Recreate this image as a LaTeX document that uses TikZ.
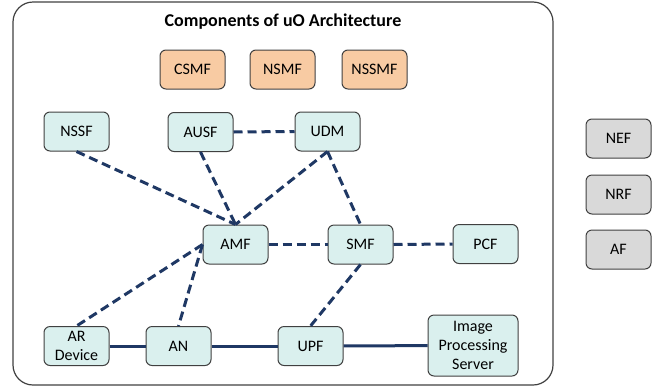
\documentclass[tikz,border=0pt]{standalone}
\usepackage{fontspec}
\setmainfont{Carlito}
\usepackage{xcolor}
\usetikzlibrary{calc}

\definecolor{tealbox}{RGB}{218,240,238}
\definecolor{orangebox}{RGB}{248,203,163}
\definecolor{graybox}{RGB}{217,217,217}
\definecolor{linkblue}{RGB}{31,56,100}
\definecolor{edgegray}{RGB}{64,64,64}

\begin{document}
\begin{tikzpicture} [x=1pt, y=-1pt,
        box/.style={draw=edgegray, line width=1pt, rounded corners=6pt, minimum width=65pt,
                    minimum height=39pt, inner sep=0pt, align=center, font=\fontsize{16}{19}\selectfont},
        nfbox/.style={box, fill=tealbox},
        mgmtbox/.style={box, fill=orangebox},
        extbox/.style={box, fill=graybox},
        ctrl/.style={draw=linkblue, line width=3pt, dash pattern=on 9pt off 5pt},
        user/.style={draw=linkblue, line width=3pt}]

        \useasboundingbox (0,0) rectangle (668,389);

         % Outer frame and title
         \draw[edgegray, line width=1.2pt, rounded corners=20pt] (13,2) rectangle (553,385);
         \node[font=\bfseries\fontsize{18}{21}\selectfont] (title) at (283,22) {Components of uO Architecture};

          % Management functions
          \node[mgmtbox] (csmf) at (192.5,69.5) {CSMF};
          \node[mgmtbox] (nsmf) at (282.5,69.5) {NSMF};
          \node[mgmtbox] (nssmf) at (374.5,69.5) {NSSMF};

         % Network functions
         \node[nfbox] (nssf) at (76.5,131.5) {NSSF};
         \node[nfbox] (ausf) at (200.5,132) {AUSF};
         \node[nfbox] (udm) at (327.5,131.5) {UDM};
         \node[nfbox] (amf) at (235.5,244.5) {AMF};
         \node[nfbox] (smf) at (360.5,244.5) {SMF};
         \node[nfbox] (pcf) at (485.5,244) {PCF};
         \node[nfbox] (ardev) at (76.5,346) {AR\\Device};
         \node[nfbox] (an) at (178.5,346) {AN};
         \node[nfbox] (upf) at (310.5,346) {UPF};
         \node[nfbox, minimum width=90pt, minimum height=61pt] (ips) at (473,345.5) {Image\\Processing\\Server};

         % Functions outside the frame
         \node[extbox] (nef) at (618.5,138.5) {NEF};
         \node[extbox] (nrf) at (618.5,194.5) {NRF};
         \node[extbox] (af) at (618.5,249.5) {AF};

        % Control plane links
        \draw[ctrl] (nssf.south) -- (amf.north);
        \draw[ctrl] (ausf.south) -- (amf.north);
        \draw[ctrl] (udm.south) -- (amf.north);
        \draw[ctrl] (ausf.east) -- (udm.west);
        \draw[ctrl] (udm.south) -- (smf.north);
        \draw[ctrl] (amf.east) -- (smf.west);
        \draw[ctrl] (smf.east) -- (pcf.west);
        \draw[ctrl] (amf.west) -- (ardev.north);
        \draw[ctrl] (amf.west) -- (an.north);
        \draw[ctrl] (smf.south) -- (upf.north);

        % User plane links
        \draw[user] (ardev) -- (an);
        \draw[user] (an) -- (upf);
        \draw[user] (upf) -- (ips);

    \end{tikzpicture}
\end{document}
